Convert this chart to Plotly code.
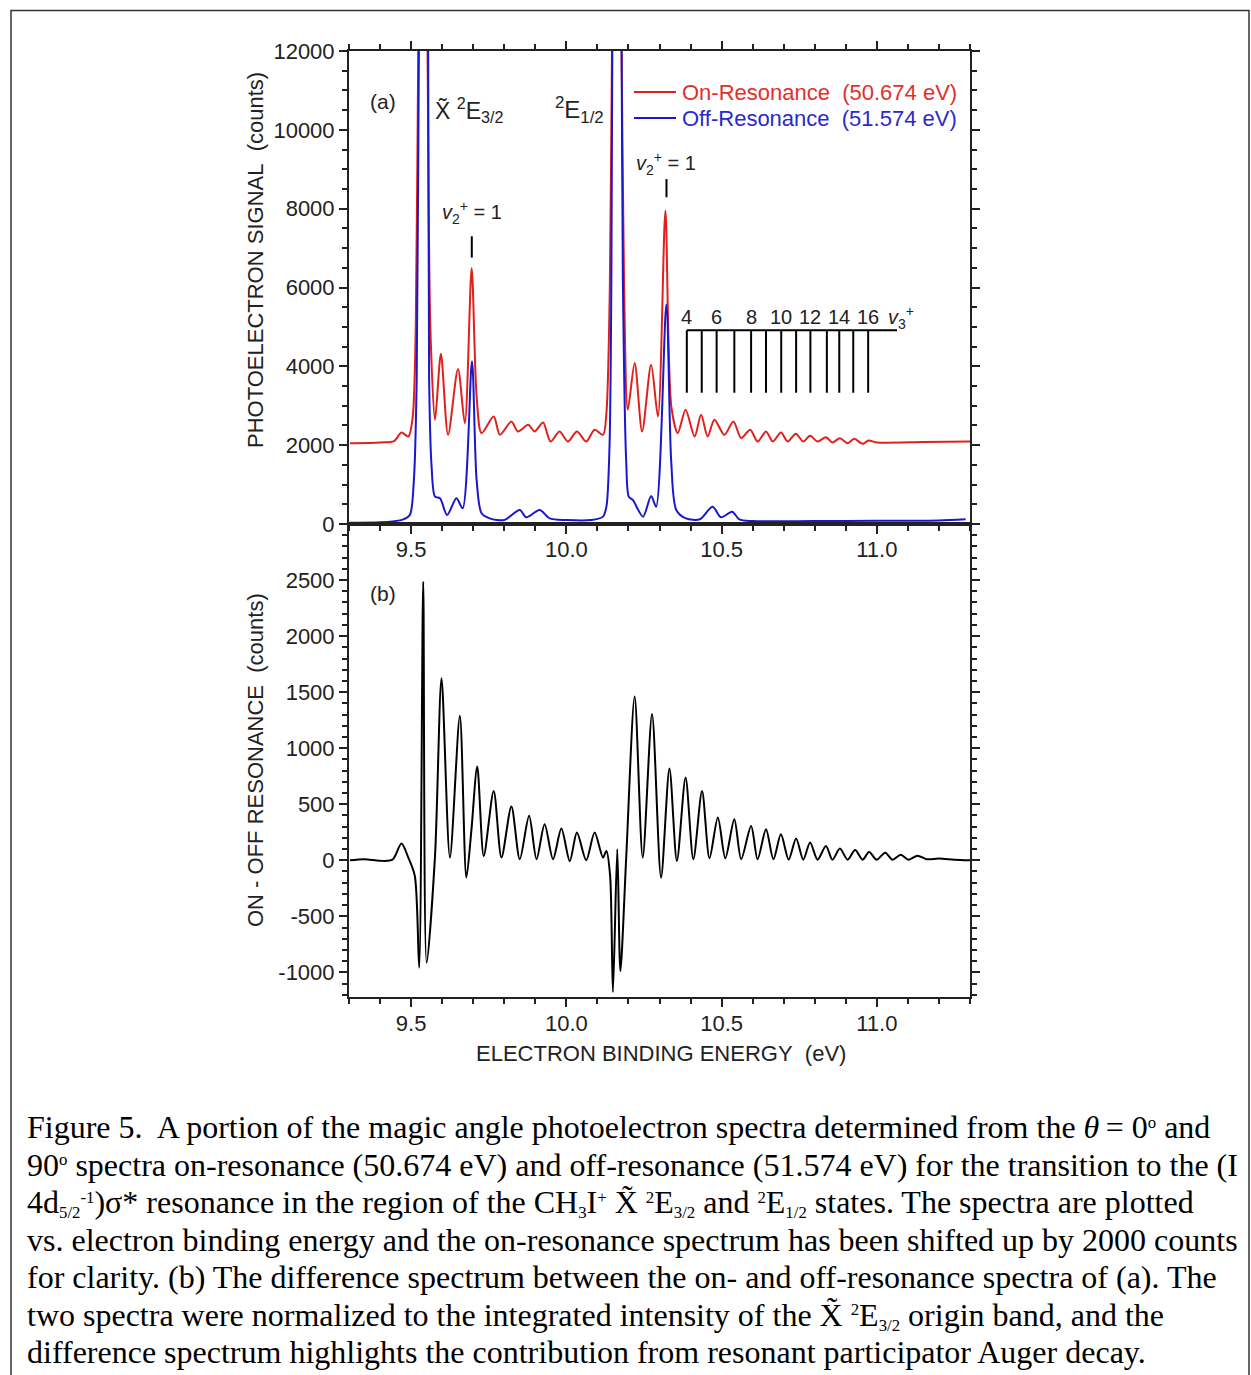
import plotly.graph_objects as go

# ---------------- data ----------------
on_energy = [9.303, 9.40, 9.445, 9.469, 9.491, 9.505, 9.515, 9.523, 9.540, 9.553, 9.562,
             9.577, 9.596, 9.619, 9.651, 9.673, 9.695, 9.711, 9.727, 9.766, 9.786, 9.823,
             9.844, 9.877, 9.898, 9.925, 9.949, 9.978, 10.005, 10.034, 10.064, 10.091,
             10.118, 10.129, 10.140, 10.147, 10.163, 10.178, 10.186, 10.198, 10.220,
             10.244, 10.273, 10.295, 10.319, 10.338, 10.359, 10.384, 10.413, 10.434,
             10.455, 10.477, 10.509, 10.538, 10.563, 10.592, 10.616, 10.643, 10.665,
             10.691, 10.713, 10.739, 10.763, 10.785, 10.809, 10.836, 10.857, 10.881,
             10.906, 10.927, 10.954, 10.973, 11.00, 11.15, 11.30]
on_counts = [2050, 2070, 2100, 2320, 2220, 2700, 5000, 12000, 26000, 12000, 5000,
             2644, 4321, 2262, 3932, 2559, 6490, 3236, 2305, 2728, 2262, 2600,
             2347, 2516, 2347, 2575, 2092, 2347, 2092, 2347, 2092, 2390,
             2262, 2814, 6000, 12000, 26000, 12000, 6000, 2898, 4085,
             2347, 4042, 2728, 7950, 2983, 2305, 2898, 2220, 2771,
             2220, 2644, 2262, 2600, 2178, 2390, 2092, 2347, 2092,
             2320, 2092, 2288, 2092, 2237, 2092, 2203, 2067, 2178,
             2050, 2161, 2033, 2118, 2070, 2080, 2092]

off_energy = [9.303, 9.432, 9.475, 9.496, 9.509, 9.518, 9.525, 9.540, 9.555, 9.558, 9.566,
              9.577, 9.593, 9.616, 9.646, 9.666, 9.696, 9.711, 9.727, 9.753, 9.80, 9.850,
              9.871, 9.914, 9.946, 10.00, 10.08, 10.118, 10.129, 10.139, 10.145, 10.148,
              10.163, 10.178, 10.182, 10.193, 10.201, 10.214, 10.247, 10.273, 10.289,
              10.322, 10.338, 10.354, 10.385, 10.43, 10.471, 10.498, 10.534, 10.557,
              10.60, 10.80, 11.00, 11.20, 11.286]
off_counts = [33, 58, 119, 229, 1118, 3660, 12000, 26000, 12000, 3660, 1457,
              694, 653, 229, 653, 398, 4126, 1118, 271, 144, 100, 356,
              170, 356, 144, 100, 100, 187, 440, 1966, 6200, 12000,
              26000, 12000, 6200, 1543, 694, 610, 187, 712, 440,
              5567, 1543, 356, 144, 120, 440, 170, 313, 119,
              75, 75, 80, 90, 119]

diff_energy = [9.303, 9.35, 9.40, 9.44, 9.469, 9.491, 9.512, 9.526, 9.539, 9.550, 9.577,
               9.598, 9.625, 9.657, 9.678, 9.694, 9.713, 9.734, 9.766, 9.791, 9.823, 9.850,
               9.880, 9.904, 9.930, 9.957, 9.984, 10.011, 10.034, 10.064, 10.091, 10.118,
               10.129, 10.141, 10.150, 10.164, 10.174, 10.193, 10.220, 10.246, 10.276,
               10.305, 10.332, 10.356, 10.384, 10.409, 10.437, 10.461, 10.488, 10.512,
               10.541, 10.563, 10.595, 10.616, 10.643, 10.667, 10.691, 10.716, 10.740,
               10.763, 10.785, 10.809, 10.836, 10.857, 10.881, 10.906, 10.930, 10.954,
               10.975, 10.999, 11.027, 11.050, 11.077, 11.102, 11.131, 11.16, 11.20,
               11.25, 11.30]
diff_counts = [0, 10, -5, 5, 149, 24, -140, -958, 2485, -914, 38,
               1623, 24, 1289, -155, 262, 837, 38, 619, 24, 479, 9,
               396, 9, 321, 9, 283, -9, 247, 0, 247, 24,
               83, -140, -1176, 98, -989, 38, 1462, 24, 1304,
               -155, 819, -6, 738, 9, 619, 18, 381, 18,
               366, 9, 306, 9, 277, 9, 232, 5, 194,
               5, 158, 5, 128, 5, 104, 5, 92, 5,
               74, 5, 68, 5, 50, 5, 41, 10, 15,
               5, 0]

# vibrational comb (v3+ levels) in panel (a)
v3_levels = [4, 5, 6, 7, 8, 9, 10, 11, 12, 13, 14, 15, 16]
v3_energy = [10.388, 10.436, 10.484, 10.541, 10.595, 10.643, 10.692, 10.740,
             10.786, 10.839, 10.879, 10.924, 10.972]

series_names = ["On-Resonance\u00a0\u00a0(50.674 eV)", "Off-Resonance\u00a0\u00a0(51.574 eV)"]

x_ticks = [9.5, 10.0, 10.5, 11.0]
x_ticktext = ["9.5", "10.0", "10.5", "11.0"]
ya_ticks = [0, 2000, 4000, 6000, 8000, 10000, 12000]
ya_ticktext = ["0", "2000", "4000", "6000", "8000", "10000", "12000"]
yb_ticks = [-1000, -500, 0, 500, 1000, 1500, 2000, 2500]
yb_ticktext = ["-1000", "-500", "0", "500", "1000", "1500", "2000", "2500"]


def sb(s):
    return "<span style='font-size:24px'><sub>" + s + "</sub></span>"


def sp(s):
    return "<span style='font-size:24px'><sup>" + s + "</sup></span>"


caption_lines = [
    "Figure 5.\u00a0 A portion of the magic angle photoelectron spectra determined from the <i>θ</i>\u2009= 0" + sp("o") + " and",
    "90" + sp("o") + " spectra on-resonance (50.674 eV) and off-resonance (51.574 eV) for the transition to the (I",
    "4d" + sb("5/2") + sp("-1") + ")σ* resonance in the region of the CH" + sb("3") + "I" + sp("+")
    + " X\u0303 " + sp("2") + "E" + sb("3/2") + " and " + sp("2") + "E" + sb("1/2")
    + " states. The spectra are plotted",
    "vs. electron binding energy and the on-resonance spectrum has been shifted up by 2000 counts",
    "for clarity. (b) The difference spectrum between the on- and off-resonance spectra of (a). The",
    "two spectra were normalized to the integrated intensity of the X\u0303 " + sp("2") + "E" + sb("3/2")
    + " origin band, and the",
    "difference spectrum highlights the contribution from resonant participator Auger decay.",
]

# ---------------- layout helpers ----------------
W, H = 1251, 1375
L, R, T, B = 349, 970, 51, 997


def pxx(x):
    return (x - L) / (R - L)


def pxy(y):
    return (B - y) / (B - T)


SANS = "Liberation Sans, Arial, sans-serif"
SERIF = "Liberation Serif, Times New Roman, serif"
TXT = "#222222"
RED = "#e0201c"
BLUE = "#1818cc"
RED_TXT = "#e0302a"
BLUE_TXT = "#2a2acc"

fig = go.Figure()
fig.add_trace(go.Scatter(x=on_energy, y=on_counts, mode="lines", xaxis="x", yaxis="y",
                         name=series_names[0], showlegend=False,
                         line=dict(color=RED, width=2, shape="spline", smoothing=0.8)))
fig.add_trace(go.Scatter(x=off_energy, y=off_counts, mode="lines", xaxis="x", yaxis="y",
                         name=series_names[1], showlegend=False,
                         line=dict(color=BLUE, width=2, shape="spline", smoothing=0.8)))
fig.add_trace(go.Scatter(x=diff_energy, y=diff_counts, mode="lines", xaxis="x2", yaxis="y2",
                         name="ON - OFF", showlegend=False,
                         line=dict(color="black", width=2, shape="spline", smoothing=0.8)))

axis_common = dict(showline=True, linewidth=2, linecolor="#222", ticks="outside", ticklen=8,
                   tickwidth=2, tickcolor="#222", showgrid=False, zeroline=False,
                   tickfont=dict(family=SANS, size=22, color=TXT))


def minor(dt):
    return dict(dtick=dt, ticks="outside", ticklen=5, tickwidth=1.5, tickcolor="#222")


fig.update_layout(
    width=W, height=H, paper_bgcolor="white", plot_bgcolor="white",
    margin=dict(l=L, r=W - R, t=T, b=H - B, autoexpand=False),
    xaxis=dict(domain=[0, 1], anchor="y", range=[9.3, 11.3], tickvals=x_ticks,
               ticktext=x_ticktext, mirror="ticks", ticklabelstandoff=-3,
               minor=dict(tick0=9.3, **minor(0.1)), **axis_common),
    yaxis=dict(domain=[0.5, 1], anchor="x", range=[0, 12000], tickvals=ya_ticks,
               ticktext=ya_ticktext, mirror="ticks",
               minor=dict(tick0=0, **minor(500)), **axis_common),
    xaxis2=dict(domain=[0, 1], anchor="y2", range=[9.3, 11.3], tickvals=x_ticks,
                ticktext=x_ticktext, mirror=True, matches="x", ticklabelstandoff=-2,
                minor=dict(tick0=9.3, **minor(0.1)), **axis_common),
    yaxis2=dict(domain=[0, 0.5], anchor="x2", range=[-1220, 3000], tickvals=yb_ticks,
                ticktext=yb_ticktext, mirror="ticks",
                minor=dict(tick0=0, **minor(100)), **axis_common),
    showlegend=False,
)

ann = []


def add_text(text, x, y, size=20, xref="paper", yref="paper", xanchor="center",
             yanchor="middle", angle=0, family=SANS, color=TXT, align="center"):
    ann.append(dict(text=text, x=x, y=y, xref=xref, yref=yref, xanchor=xanchor,
                    yanchor=yanchor, showarrow=False, textangle=angle, align=align,
                    font=dict(family=family, size=size, color=color)))


# legend (drawn manually for exact placement)
add_text(series_names[0], pxx(680), pxy(92), size=22, xanchor="left", color=RED_TXT)
add_text(series_names[1], pxx(680), pxy(118), size=22, xanchor="left", color=BLUE_TXT)

# panel labels and state labels
add_text("(a)", pxx(383), pxy(101), size=21)
add_text("(b)", pxx(383), pxy(593), size=21)
add_text("X\u0303 <sup>2</sup>E<sub>3/2</sub>", pxx(469), pxy(110), size=23)
add_text("<sup>2</sup>E<sub>1/2</sub>", pxx(579), pxy(110), size=24)
add_text("<i>v</i><sub>2</sub><sup>+</sup>\u00a0= 1", 9.6955, 7900, size=20, xref="x", yref="y")
add_text("<i>v</i><sub>2</sub><sup>+</sup>\u00a0= 1", 10.3225, 9140, size=20, xref="x", yref="y")

# comb labels
for lvl, e in zip(v3_levels, v3_energy):
    if lvl % 2 == 0:
        add_text(str(lvl), e, 5250, size=20, xref="x", yref="y")
add_text("<i>v</i><sub>3</sub><sup>+</sup>", 11.03, 5230, size=20, xref="x", yref="y",
         xanchor="left")

# axis titles
add_text("PHOTOELECTRON SIGNAL\u00a0\u00a0(counts)", pxx(256), pxy(260), size=22, angle=-90)
add_text("ON - OFF RESONANCE\u00a0\u00a0(counts)", pxx(256), pxy(760), size=22, angle=-90)
add_text("ELECTRON BINDING ENERGY\u00a0\u00a0(eV)", pxx(661), pxy(1053), size=22)

# caption: one text block; line pitch set by the block font, glyph size by the spans
caption_html = "<br>".join("<span style='font-size:32px'>" + ln + "</span>" for ln in caption_lines)
add_text(caption_html, pxx(25), pxy(1107), size=37.5 / 1.3, xanchor="left", yanchor="top",
         family=SERIF, color="black", align="left")

shapes = []
# legend lines
shapes.append(dict(type="line", xref="paper", yref="paper", x0=pxx(634), x1=pxx(676),
                   y0=pxy(92), y1=pxy(92), line=dict(color=RED, width=2)))
shapes.append(dict(type="line", xref="paper", yref="paper", x0=pxx(634), x1=pxx(676),
                   y0=pxy(118), y1=pxy(118), line=dict(color=BLUE, width=2)))
# v2+ = 1 markers
shapes.append(dict(type="line", xref="x", yref="y", x0=9.6955, x1=9.6955, y0=6760, y1=7300,
                   line=dict(color="black", width=2)))
shapes.append(dict(type="line", xref="x", yref="y", x0=10.3225, x1=10.3225, y0=8290, y1=8750,
                   line=dict(color="black", width=2)))
# comb
shapes.append(dict(type="line", xref="x", yref="y", x0=v3_energy[0], x1=11.065, y0=4914,
                   y1=4914, line=dict(color="black", width=2)))
for e in v3_energy:
    shapes.append(dict(type="line", xref="x", yref="y", x0=e, x1=e, y0=3330, y1=4914,
                       line=dict(color="black", width=2)))
# outer frame
shapes.append(dict(type="rect", xref="paper", yref="paper", x0=pxx(11), x1=pxx(1249),
                   y0=pxy(1400), y1=pxy(10.5), line=dict(color="#333", width=1.5),
                   fillcolor="rgba(0,0,0,0)", layer="below"))

fig.update_layout(annotations=ann, shapes=shapes)
fig.write_html("out.html", config={"displayModeBar": False},
               post_script="document.body.style.margin='0';document.body.style.overflow='hidden';")
